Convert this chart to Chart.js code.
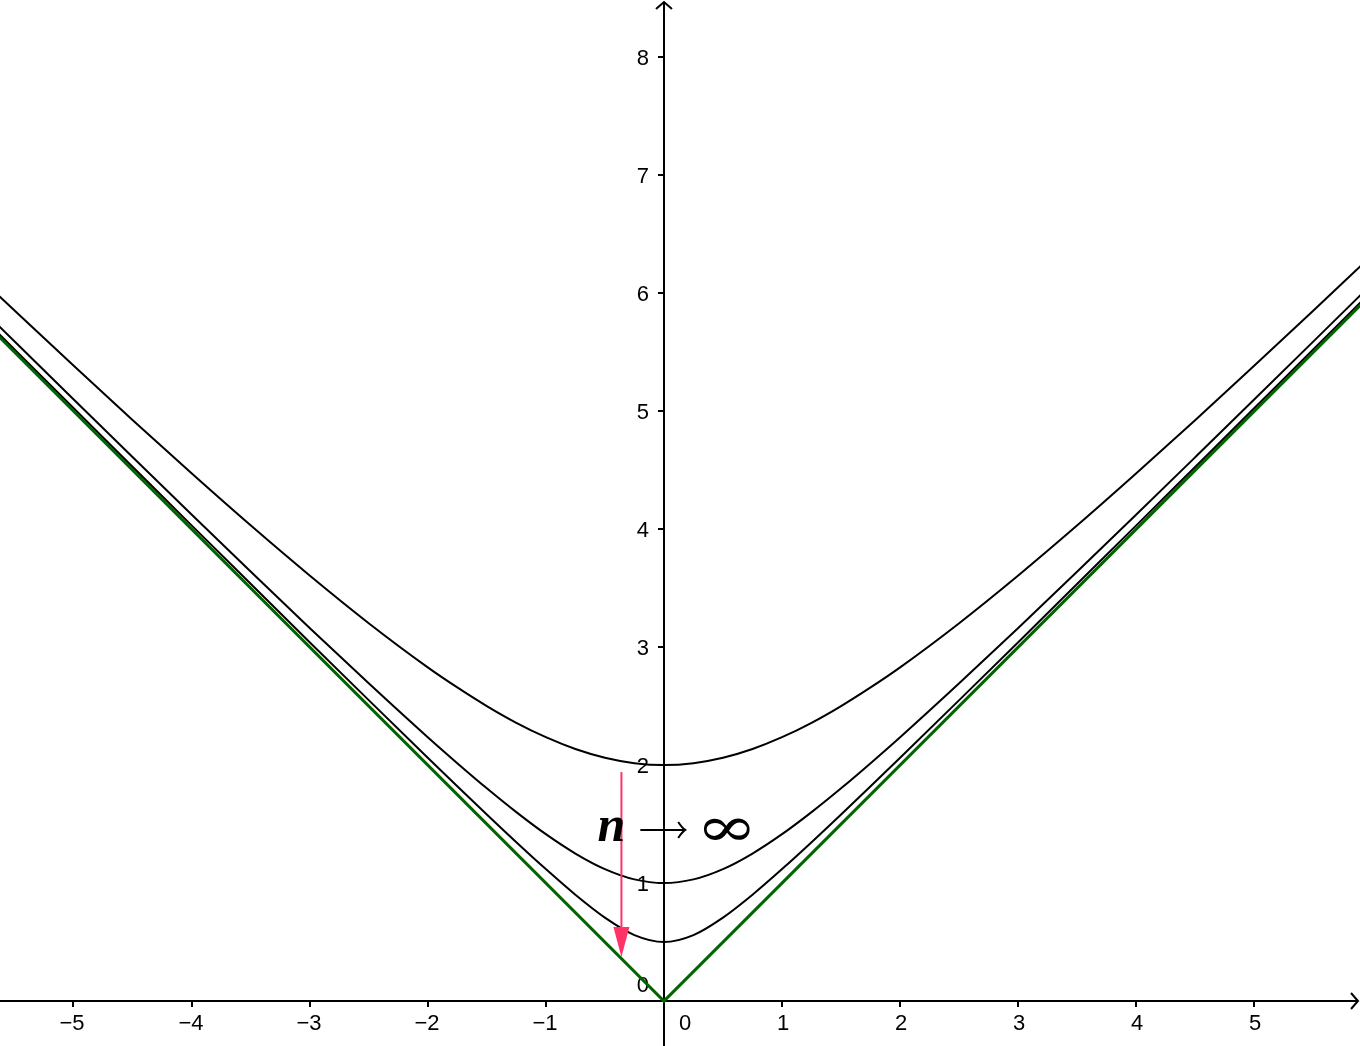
<!DOCTYPE html>
<html>
<head>
<meta charset="utf-8">
<script src="https://cdn.jsdelivr.net/npm/chart.js@4.4.1/dist/chart.umd.min.js"></script>
<style>
html,body{margin:0;padding:0;background:#fff;}
#wrap{width:1360px;height:1046px;}
</style>
</head>
<body>
<div id="wrap"><canvas id="c" width="1360" height="1046"></canvas></div>
<script>
// sample x positions
const xs = [-5.65,-5,-4.5,-4,-3.5,-3,-2.5,-2,-1.75,-1.5,-1.25,-1,-0.75,-0.5,-0.25,0,0.25,0.5,0.75,1,1.25,1.5,1.75,2,2.5,3,3.5,4,4.5,5,5.5,5.9];
// curve values (minimum 2)
const curveA = [5.993,5.385,4.924,4.472,4.031,3.606,3.202,2.828,2.658,2.5,2.358,2.236,2.136,2.062,2.016,2,2.016,2.062,2.136,2.236,2.358,2.5,2.658,2.828,3.202,3.606,4.031,4.472,4.924,5.385,5.852,6.230];
// minimum 1
const curveB = [5.738,5.099,4.610,4.123,3.640,3.162,2.693,2.236,2.016,1.803,1.601,1.414,1.25,1.118,1.031,1,1.031,1.118,1.25,1.414,1.601,1.803,2.016,2.236,2.693,3.162,3.640,4.123,4.610,5.099,5.590,5.984];
// minimum 0.5
const curveC = [5.672,5.025,4.528,4.031,3.536,3.041,2.550,2.062,1.820,1.581,1.346,1.118,0.901,0.707,0.559,0.5,0.559,0.707,0.901,1.118,1.346,1.581,1.820,2.062,2.550,3.041,3.536,4.031,4.528,5.025,5.523,5.921];
// limit |x|
const limitX = [-5.65,0,5.9];
const limitY = [5.65,0,5.9];
// tick labels
const xTicks = [-5,-4,-3,-2,-1,1,2,3,4,5];
const yTicks = [1,2,3,4,5,6,7,8];
// pink arrow (x, yStart, yEnd)
const arrowX = [-0.36];
const arrowY = [1.94,0.373];
const label = ['n','∞'];

const toPts = (X,Y)=>X.map((x,i)=>({x:x,y:Y[i]}));

const axesPlugin = {
  id:'axes',
  beforeDatasetsDraw(chart){
    const ctx = chart.ctx, sx = chart.scales.x, sy = chart.scales.y;
    const ox = Math.round(sx.getPixelForValue(0)), oy = Math.round(sy.getPixelForValue(0));
    const L = chart.chartArea;
    ctx.save();
    ctx.strokeStyle = '#000'; ctx.lineWidth = 2; ctx.lineCap='butt';
    // x axis
    ctx.beginPath(); ctx.moveTo(L.left, oy); ctx.lineTo(L.right-2, oy); ctx.stroke();
    ctx.beginPath(); ctx.moveTo(L.right-9, oy-8); ctx.lineTo(L.right-2, oy); ctx.lineTo(L.right-9, oy+8); ctx.stroke();
    // y axis
    ctx.beginPath(); ctx.moveTo(ox, L.bottom); ctx.lineTo(ox, L.top+2); ctx.stroke();
    ctx.beginPath(); ctx.moveTo(ox-8, L.top+9); ctx.lineTo(ox, L.top+2); ctx.lineTo(ox+8, L.top+9); ctx.stroke();
    // ticks
    ctx.fillStyle='#000';
    ctx.font = '22px "Liberation Sans", Arial, sans-serif';
    ctx.textAlign='center'; ctx.textBaseline='middle';
    xTicks.forEach(v=>{
      const p = Math.round(sx.getPixelForValue(v));
      ctx.beginPath(); ctx.moveTo(p, oy); ctx.lineTo(p, oy+6); ctx.stroke();
      const t = v<0 ? '\u2212'+Math.abs(v) : String(v);
      ctx.fillText(t, p + (v<0 ? -1 : 1), oy+23);
    });
    ctx.fillText('0', ox+21, oy+23);
    ctx.textAlign='right';
    yTicks.forEach(v=>{
      const p = Math.round(sy.getPixelForValue(v));
      ctx.beginPath(); ctx.moveTo(ox-6, p); ctx.lineTo(ox, p); ctx.stroke();
      ctx.fillText(String(v), ox-15, p+2);
    });
    ctx.fillText('0', ox-15, oy-15);
    ctx.restore();
  },
  afterDatasetsDraw(chart){
    const ctx = chart.ctx, sx = chart.scales.x, sy = chart.scales.y;
    ctx.save();
    // pink arrow
    const ax = sx.getPixelForValue(arrowX[0]);
    const y1 = sy.getPixelForValue(arrowY[0]), y2 = sy.getPixelForValue(arrowY[1]);
    ctx.strokeStyle='#ff3366'; ctx.fillStyle='#ff3366'; ctx.lineWidth=2;
    ctx.beginPath(); ctx.moveTo(ax,y1); ctx.lineTo(ax,y2-20); ctx.stroke();
    ctx.beginPath(); ctx.moveTo(ax,y2); ctx.lineTo(ax-8,y2-30); ctx.lineTo(ax+8,y2-30); ctx.closePath(); ctx.fill();
    // label n -> ∞
    const ly = sy.getPixelForValue(1.45);
    ctx.fillStyle='#000';
    ctx.textBaseline='alphabetic'; ctx.textAlign='center';
    ctx.font = 'italic bold 50px "Liberation Serif", "DejaVu Serif", serif';
    ctx.fillText(label[0], sx.getPixelForValue(-0.445), ly+11);
    // arrow
    const a1 = sx.getPixelForValue(-0.2), a2 = sx.getPixelForValue(0.18);
    ctx.strokeStyle='#000'; ctx.lineWidth=2;
    ctx.beginPath(); ctx.moveTo(a1, ly); ctx.lineTo(a2, ly); ctx.stroke();
    ctx.beginPath(); ctx.moveTo(a2-7, ly-8); ctx.quadraticCurveTo(a2-3, ly-2, a2, ly); ctx.quadraticCurveTo(a2-3, ly+2, a2-7, ly+8); ctx.stroke();
    // infinity, scaled to its width in the picture
    ctx.font = '56px "DejaVu Serif", "Liberation Serif", serif';
    const m = ctx.measureText(label[1]);
    const inkW = (m.actualBoundingBoxRight + m.actualBoundingBoxLeft) || m.width;
    const cx = sx.getPixelForValue(0.53);
    ctx.translate(cx, ly);
    ctx.scale(46/inkW, 1);
    ctx.textBaseline='middle';
    ctx.fillText(label[1], 0, 2);
    ctx.restore();
  }
};

const common = {showLine:true, pointRadius:0, pointHoverRadius:0, fill:false};
new Chart(document.getElementById('c'), {
  type:'scatter',
  data:{datasets:[
    Object.assign({data:toPts(limitX,limitY), borderColor:'#006400', borderWidth:3, tension:0, order:0}, common),
    Object.assign({data:toPts(xs,curveA), borderColor:'#000', borderWidth:2, cubicInterpolationMode:'monotone', order:1}, common),
    Object.assign({data:toPts(xs,curveB), borderColor:'#000', borderWidth:2, cubicInterpolationMode:'monotone', order:1}, common),
    Object.assign({data:toPts(xs,curveC), borderColor:'#000', borderWidth:2, cubicInterpolationMode:'monotone', order:1}, common)
  ]},
  options:{
    responsive:false, animation:false,
    layout:{padding:0},
    plugins:{legend:{display:false}, tooltip:{enabled:false}},
    scales:{
      x:{type:'linear', display:false, min:-5.622, max:5.894},
      y:{type:'linear', display:false, min:-0.381, max:8.483}
    }
  },
  plugins:[axesPlugin]
});
</script>
</body>
</html>
